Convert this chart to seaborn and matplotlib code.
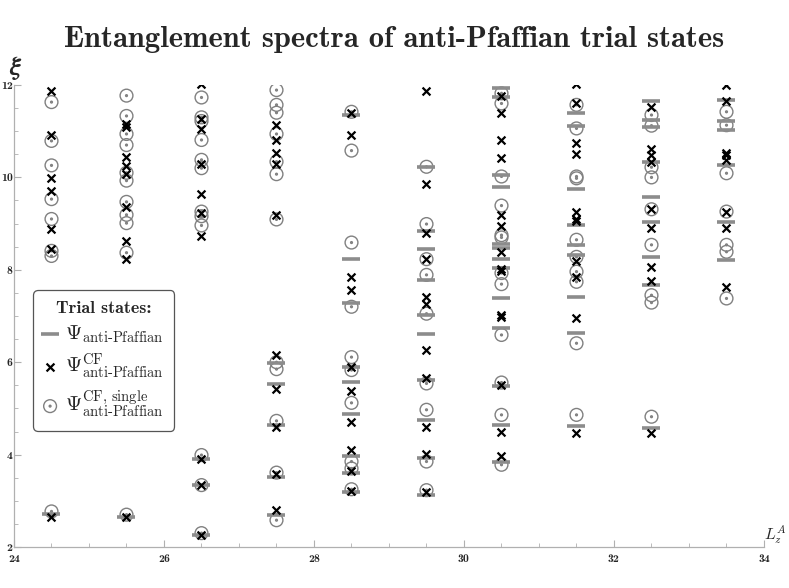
import matplotlib
matplotlib.use("Agg")
import matplotlib.pyplot as plt
import seaborn as sns
import pandas as pd
from matplotlib.path import Path
from matplotlib.ticker import MultipleLocator

# ================================
# Data (L_z^A -> entanglement energies xi)
# ================================
apf_levels = {  # Psi anti-Pfaffian (gray dashes)
    24.5: [2.71],
    25.5: [2.66],
    26.5: [3.90, 3.34, 2.25],
    27.5: [5.98, 5.52, 4.64, 3.52, 2.69],
    28.5: [11.35, 8.23, 7.29, 5.90, 5.58, 4.87, 3.97, 3.61, 3.18],
    29.5: [10.22, 8.83, 8.44, 7.78, 7.02, 6.61, 5.61, 4.74, 3.92, 3.13],
    30.5: [11.93, 11.75, 10.06, 9.79, 8.56, 8.47, 8.23, 8.03, 7.38, 6.75, 5.49, 4.63, 3.85],
    31.5: [11.40, 11.12, 9.74, 8.97, 8.54, 8.32, 7.42, 6.63, 4.61],
    32.5: [11.66, 11.24, 11.10, 10.34, 9.57, 9.04, 8.28, 7.67, 4.57],
    33.5: [11.68, 11.21, 11.03, 10.27, 9.04, 8.21],
}

cf_levels = {  # Psi^CF anti-Pfaffian (black crosses)
    24.5: [11.88, 10.92, 9.98, 9.71, 8.88, 8.44, 2.66],
    25.5: [11.15, 11.10, 10.45, 10.25, 10.07, 9.37, 8.62, 8.23, 2.65],
    26.5: [12.03, 11.26, 11.05, 10.29, 9.64, 9.22, 8.74, 3.90, 3.34, 2.26],
    27.5: [11.13, 10.81, 10.53, 10.29, 9.19, 6.16, 5.41, 4.59, 3.58, 2.80],
    28.5: [11.39, 10.92, 7.84, 7.56, 5.89, 5.38, 4.71, 4.10, 3.65, 3.22],
    29.5: [11.86, 9.86, 8.79, 8.23, 7.42, 7.27, 6.26, 5.65, 4.59, 4.01, 3.20],
    30.5: [11.76, 11.40, 10.82, 10.41, 9.19, 8.95, 8.39, 8.02, 7.98, 7.02, 6.98, 5.51, 4.48, 3.96],
    31.5: [12.03, 11.62, 10.74, 10.50, 9.26, 9.09, 9.05, 8.18, 7.85, 6.95, 4.46],
    32.5: [11.53, 10.61, 10.48, 10.34, 9.31, 8.90, 8.07, 7.76, 4.46],
    33.5: [12.00, 11.66, 10.52, 10.48, 10.38, 9.26, 8.90, 7.63],
}

cfs_levels = {  # Psi^CF, single anti-Pfaffian (gray dotted circles)
    24.5: [11.63, 10.79, 10.26, 9.53, 9.10, 8.41, 8.30, 2.77],
    25.5: [11.77, 11.33, 10.94, 10.70, 10.10, 9.93, 9.47, 9.19, 9.01, 8.37, 2.70],
    26.5: [11.73, 11.30, 11.22, 10.81, 10.38, 10.20, 9.26, 9.16, 8.96, 3.99, 3.34, 2.30],
    27.5: [11.89, 11.57, 11.40, 10.94, 10.34, 10.07, 9.09, 6.00, 5.85, 4.73, 3.61, 2.58],
    28.5: [11.42, 10.58, 8.59, 7.20, 6.11, 5.83, 5.12, 3.85, 3.70, 3.25],
    29.5: [10.23, 8.99, 8.23, 7.89, 7.05, 5.54, 4.97, 3.85, 3.23],
    30.5: [11.82, 11.60, 10.02, 9.39, 8.75, 8.70, 7.93, 7.69, 6.59, 5.56, 4.86, 3.78],
    31.5: [11.57, 11.06, 10.02, 9.98, 8.65, 8.28, 7.96, 7.74, 6.41, 4.86],
    32.5: [11.35, 11.12, 10.22, 10.00, 9.31, 8.54, 7.45, 7.29, 4.82],
    33.5: [11.42, 11.13, 10.09, 9.26, 8.54, 8.39, 7.38],
}

x_ticks = [24, 26, 28, 30, 32, 34]
y_ticks = [2, 4, 6, 8, 10, 12]


def to_frame(levels):
    rows = [(L, xi) for L, vals in levels.items() for xi in vals]
    return pd.DataFrame(rows, columns=["L", "xi"])


df_apf = to_frame(apf_levels)
df_cf = to_frame(cf_levels)
df_cfs = to_frame(cfs_levels)

# ================================
# Style
# ================================
sns.set_style("white")
plt.rcParams["mathtext.fontset"] = "cm"
plt.rcParams["font.family"] = ["cmb10", "DejaVu Serif"]

# circle with a dot in the middle
ring_dot = Path.make_compound_path(Path.unit_circle(), Path.circle((0, 0), 0.14))

fig = plt.figure(figsize=(7.89, 5.88), dpi=100)
ax = fig.add_axes([14 / 789, 41 / 588, 750 / 789, 462 / 588])

sns.scatterplot(data=df_cfs, x="L", y="xi", marker=ring_dot, s=85,
                facecolor="none", edgecolor="#808080", linewidth=1.0,
                label=r"$\Psi^{\text{CF, single}}_{\text{anti-Pfaffian}}$", ax=ax, zorder=3)
sns.scatterplot(data=df_apf, x="L", y="xi", marker="_", s=150,
                color="#8c8c8c", linewidth=2.6,
                label=r"$\Psi_{\text{anti-Pfaffian}}$", ax=ax, zorder=4)
sns.scatterplot(data=df_cf, x="L", y="xi", marker="x", s=32,
                color="black", linewidth=1.6,
                label=r"$\Psi^{\text{CF}}_{\text{anti-Pfaffian}}$", ax=ax, zorder=5)

ax.set_xlim(24, 34)
ax.set_ylim(2, 12)
ax.set_xticks(x_ticks)
ax.set_yticks(y_ticks)
ax.xaxis.set_minor_locator(MultipleLocator(0.5))
ax.yaxis.set_minor_locator(MultipleLocator(0.5))
ax.tick_params(which="both", direction="in", color="#b0b0b0", labelsize=8.5,
               bottom=True, left=True)
ax.tick_params(axis="y", pad=1)
ax.tick_params(axis="x", pad=5)
ax.tick_params(which="major", length=5, width=0.8)
ax.tick_params(which="minor", length=3, width=0.6)
ax.set_xlabel("")
ax.set_ylabel("")
for s in ["top", "right"]:
    ax.spines[s].set_visible(False)
for s in ["left", "bottom"]:
    ax.spines[s].set_color("#b0b0b0")
    ax.spines[s].set_linewidth(0.9)

# legend in the order of the reference
h, l = ax.get_legend_handles_labels()
order = [1, 2, 0]
leg = ax.legend([h[i] for i in order], [l[i] for i in order],
                title="Trial states:", loc="upper left",
                bbox_to_anchor=(0.012, 0.578), fontsize=15,
                title_fontsize=13, frameon=True, fancybox=True,
                edgecolor="#555555", framealpha=1, handlelength=0.6,
                handletextpad=0.4, borderpad=0.5, labelspacing=0.35)
leg.get_frame().set_linewidth(0.9)

fig.text(0.5, 0.932, "Entanglement spectra of anti-Pfaffian trial states",
         ha="center", va="center", fontsize=22)
fig.text(0.012, 0.885, r"$\boldsymbol{\xi}$", fontsize=19, ha="left", va="center")
fig.text(0.968, 0.09, r"$\boldsymbol{L_z^A}$", fontsize=11.5, ha="left", va="center")

fig.savefig("out.png", dpi=100)
